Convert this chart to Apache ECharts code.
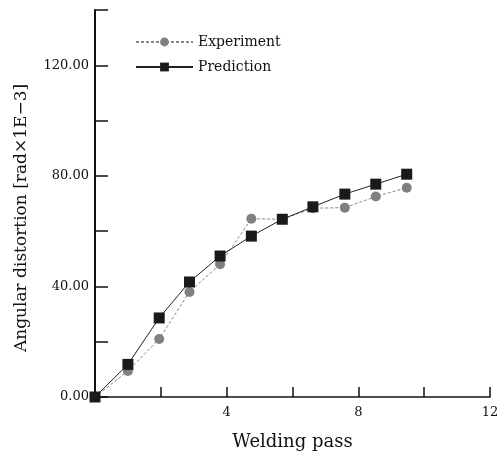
<!DOCTYPE html>
<html>
<head>
<meta charset="utf-8">
<script src="https://cdn.jsdelivr.net/npm/echarts@6/dist/echarts.min.js"></script>
<style>
  html, body { margin: 0; padding: 0; background: #fff; }
  #main { width: 500px; height: 453px; }
</style>
</head>
<body>
<div id="main"></div>
<script>
// welding pass positions
var passes = [0, 1, 1.95, 2.87, 3.8, 4.75, 5.69, 6.62, 7.59, 8.53, 9.47];
var experiment = [0, 9.4, 21.0, 38.0, 48.0, 64.5, 64.3, 68.3, 68.5, 72.5, 75.7];
var prediction = [0, 11.8, 28.6, 41.6, 51.0, 58.2, 64.3, 68.8, 73.4, 77.0, 80.6];
var xLabels = [4, 8, 12];
var yLabels = [0, 40, 80, 120];

function pairs(xs, ys) {
  return xs.map(function (x, i) { return [x, ys[i]]; });
}

var myChart = echarts.init(document.getElementById('main'));

var serif = 'DejaVu Serif';

var option = {
  animation: false,
  backgroundColor: '#fff',
  grid: { left: 95, right: 10, top: 10, bottom: 56, outerBoundsMode: 'none' },
  legend: {
    orient: 'vertical',
    left: 130,
    top: 30,
    itemWidth: 57,
    itemHeight: 11,
    itemGap: 11,
    textStyle: { fontFamily: serif, fontSize: 14, color: '#111' },
    data: ['Experiment', 'Prediction']
  },
  // y axis title sits a little below the plot centre in the original
  graphic: [{
    type: 'text',
    x: 22,
    y: 218,
    rotation: Math.PI / 2,
    style: {
      text: 'Angular distortion [rad\u00d71E\u22123]',
      font: '17px "DejaVu Serif"',
      fill: '#111',
      align: 'center',
      verticalAlign: 'middle'
    }
  }],
  xAxis: {
    type: 'value',
    min: 0,
    max: 12,
    interval: 2,
    name: 'Welding pass',
    nameLocation: 'middle',
    nameGap: 36,
    nameTextStyle: { fontFamily: serif, fontSize: 18, color: '#111' },
    splitLine: { show: false },
    axisLine: { lineStyle: { color: '#111', width: 1.5 } },
    axisTick: { inside: true, length: 10, lineStyle: { color: '#111', width: 1.5 } },
    axisLabel: {
      fontFamily: serif, fontSize: 13, color: '#111', margin: 9,
      formatter: function (v) { return xLabels.indexOf(v) >= 0 ? String(v) : ''; }
    }
  },
  yAxis: {
    type: 'value',
    min: 0,
    max: 140,
    interval: 20,
    splitLine: { show: false },
    axisLine: { lineStyle: { color: '#111', width: 2 } },
    axisTick: { inside: true, length: 13, lineStyle: { color: '#111', width: 1.5 } },
    axisLabel: {
      fontFamily: serif, fontSize: 13, color: '#111', margin: 6,
      formatter: function (v) { return yLabels.indexOf(v) >= 0 ? v.toFixed(2) : ''; }
    }
  },
  series: [
    {
      name: 'Experiment',
      type: 'line',
      data: pairs(passes, experiment),
      symbol: 'circle',
      symbolSize: 10,
      itemStyle: { color: '#808080' },
      lineStyle: { color: '#888', width: 1, type: [3, 2] },
      z: 2
    },
    {
      name: 'Prediction',
      type: 'line',
      data: pairs(passes, prediction),
      symbol: 'rect',
      symbolSize: 11,
      itemStyle: { color: '#1a1a1a' },
      lineStyle: { color: '#222', width: 1 },
      z: 3
    }
  ]
};

myChart.setOption(option);
</script>
</body>
</html>
